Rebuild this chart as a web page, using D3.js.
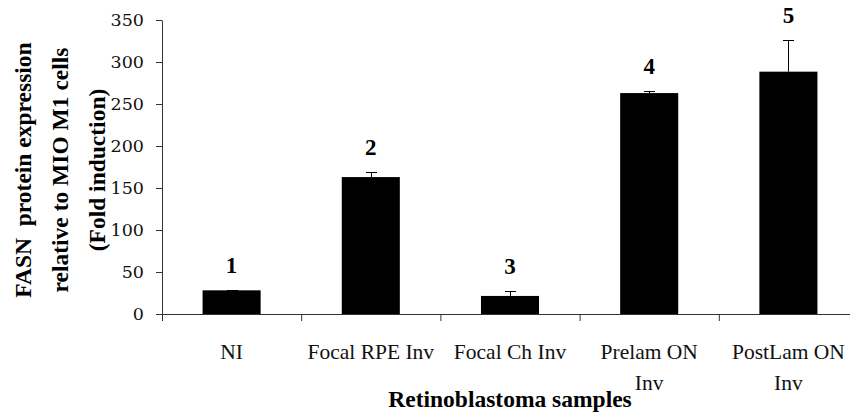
<!DOCTYPE html>
<html>
<head>
<meta charset="utf-8">
<script src="https://cdn.jsdelivr.net/npm/d3@7/dist/d3.min.js"></script>
<style>
  html, body { margin: 0; padding: 0; background: #fff; }
  svg { display: block; }
</style>
</head>
<body>
<svg id="chart" width="850" height="412"></svg>
<script>
// Retinoblastoma samples: FASN fold induction relative to MIO M1 cells
const categories = ["NI", "Focal RPE Inv", "Focal Ch Inv", "Prelam ON\nInv", "PostLam ON\nInv"];
const foldInduction = [28.2, 163, 21.5, 263, 288.5];
const errorUpper = [0.8, 6, 5.5, 3, 37.2];
const groupLabels = ["1", "2", "3", "4", "5"];
const yTicks = [0, 50, 100, 150, 200, 250, 300, 350];
const yTitleLines = ["FASN\u00a0\u00a0protein expression", "relative to MIO M1 cells", "(Fold induction)"];
const xTitle = "Retinoblastoma samples";

const SERIF = '"Liberation Serif", "Times New Roman", serif';
const TICK_FONT = '"DejaVu Serif", serif';

const svg = d3.select("#chart");
const plotLeft = 162, plotRight = 858, plotTop = 20, plotBottom = 314;

const y = d3.scaleLinear().domain([0, 350]).range([plotBottom, plotTop]);
const x = d3.scaleBand().domain(categories).range([plotLeft, plotRight])
  .paddingInner(0.583).paddingOuter(0.2915);
const xEdge = d3.scaleLinear().domain([0, categories.length]).range([plotLeft, plotRight]);

const axisColor = "#333";

// y axis
const yAxis = svg.append("g")
  .attr("transform", `translate(${plotLeft},0)`)
  .call(d3.axisLeft(y).tickValues(yTicks).tickSizeInner(6).tickSizeOuter(0).tickPadding(12));
yAxis.select(".domain").attr("stroke", axisColor);
yAxis.selectAll(".tick line").attr("stroke", axisColor);
yAxis.selectAll(".tick text")
  .style("font-family", TICK_FONT)
  .style("font-size", "17.5px")
  .attr("fill", "#111");

// x axis: baseline with ticks at category boundaries
const xAxis = svg.append("g")
  .attr("transform", `translate(0,${plotBottom})`)
  .call(d3.axisBottom(xEdge).tickValues(d3.range(categories.length + 1))
    .tickFormat("").tickSizeInner(7).tickSizeOuter(0));
xAxis.select(".domain").attr("stroke", axisColor);
xAxis.selectAll(".tick line").attr("stroke", axisColor);

// bars
svg.append("g").selectAll("rect")
  .data(categories)
  .join("rect")
  .attr("x", d => x(d))
  .attr("width", x.bandwidth())
  .attr("y", (d, i) => y(foldInduction[i]))
  .attr("height", (d, i) => y(0) - y(foldInduction[i]))
  .attr("fill", "#000");

// upper error bars
const capHalf = 5.5;
const err = svg.append("g").attr("stroke", "#000").attr("stroke-width", 1);
categories.forEach((c, i) => {
  const cx = Math.round(x(c) + x.bandwidth() / 2) + 0.5;
  const y0 = y(foldInduction[i]);
  const y1 = Math.round(y(foldInduction[i] + errorUpper[i])) + 0.5;
  err.append("line").attr("x1", cx).attr("x2", cx).attr("y1", y0).attr("y2", y1);
  err.append("line").attr("x1", cx - capHalf).attr("x2", cx + capHalf).attr("y1", y1).attr("y2", y1);
});

// group numbers above bars
svg.append("g").selectAll("text")
  .data(categories)
  .join("text")
  .style("font-family", SERIF)
  .style("font-weight", "bold")
  .style("font-size", "23px")
  .attr("x", d => x(d) + x.bandwidth() / 2)
  .attr("y", (d, i) => y(foldInduction[i] + errorUpper[i]) - 17)
  .attr("text-anchor", "middle")
  .text((d, i) => groupLabels[i]);

// category labels (wrapped onto two lines where needed)
const catText = svg.append("g").selectAll("text")
  .data(categories)
  .join("text")
  .style("font-family", SERIF)
  .style("font-size", "21.5px")
  .attr("text-anchor", "middle")
  .attr("fill", "#111")
  .attr("y", 359);
catText.each(function (d) {
  const cx = x(d) + x.bandwidth() / 2;
  d.split("\n").forEach((line, k) => {
    d3.select(this).append("tspan")
      .attr("x", cx)
      .attr("dy", k === 0 ? 0 : 31)
      .text(line);
  });
});

// x axis title
svg.append("text")
  .style("font-family", SERIF)
  .style("font-weight", "bold")
  .style("font-size", "23.5px")
  .attr("x", (plotLeft + plotRight) / 2)
  .attr("y", 407)
  .attr("text-anchor", "middle")
  .text(xTitle);

// y axis title, three rotated lines
const titleBaselines = [31, 68, 105];
svg.append("g").selectAll("text")
  .data(yTitleLines)
  .join("text")
  .style("font-family", SERIF)
  .style("font-weight", "bold")
  .style("font-size", "23.5px")
  .attr("transform", (d, i) => `translate(${titleBaselines[i]},170) rotate(-90)`)
  .attr("text-anchor", "middle")
  .text(d => d);
</script>
</body>
</html>
